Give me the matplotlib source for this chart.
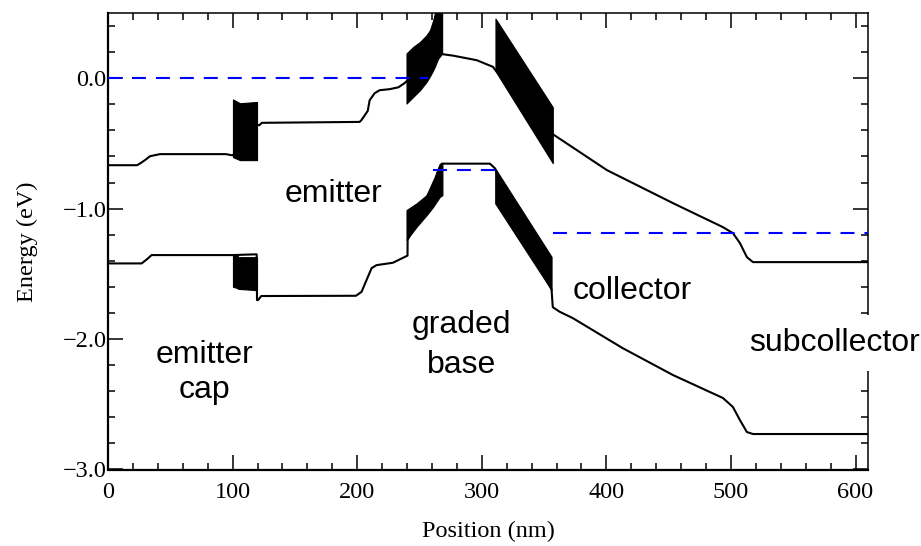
import matplotlib
matplotlib.use("Agg")
import matplotlib.pyplot as plt
from matplotlib.ticker import MultipleLocator

# ---------------- data ----------------
# Conduction band edge (upper curve): position (nm), energy (eV)
cb_x = [0, 23.3, 26.0, 29.7, 33.7, 41.7, 94.7, 99.0, 100.3, 119.6, 121.5, 123.5,
        202.0, 203.5, 208.5, 210.0, 214.0, 218.0, 226.0, 233.0, 238.0, 240.0,
        268.0, 277.0, 296.0, 309.0, 311.0, 357.0, 400.5, 453.5, 493.6, 501.6,
        507.2, 512.8, 517.7, 610.0]
cb_e = [-0.667, -0.667, -0.652, -0.628, -0.598, -0.582, -0.582, -0.59, -0.59, -0.36, -0.36, -0.342,
        -0.335, -0.32, -0.25, -0.169, -0.115, -0.092, -0.084, -0.07, -0.038, -0.02,
        0.185, 0.173, 0.138, 0.087, 0.061, -0.429, -0.705, -0.958, -1.142, -1.188,
        -1.264, -1.372, -1.41, -1.41]

# Valence band edge (lower curve)
vb_x = [0, 27.0, 31.0, 35.0, 100.3, 119.3, 119.6, 120.5, 123.0, 199.0, 203.5, 208.6,
        211.6, 215.6, 228.6, 238.3, 240.4, 240.5, 268.0, 306.5, 310.5, 356.0, 357.0,
        362.4, 373.0, 413.0, 453.5, 493.6, 501.6, 507.2, 512.8, 517.7, 610.0]
vb_e = [-1.42, -1.42, -1.39, -1.356, -1.356, -1.35, -1.701, -1.701, -1.67, -1.668, -1.638, -1.523,
        -1.456, -1.433, -1.415, -1.37, -1.36, -1.24, -0.655, -0.655, -0.69, -1.62, -1.755,
        -1.79, -1.839, -2.069, -2.276, -2.452, -2.521, -2.621, -2.713, -2.728, -2.728]

# Dense (black) band regions: x, upper envelope, lower envelope
emit_cb_x = [100.3, 106.0, 119.6]
emit_cb_hi = [-0.163, -0.192, -0.182]
emit_cb_lo = [-0.605, -0.628, -0.628]

emit_vb_x = [100.3, 104.2, 104.3, 119.6]
emit_vb_hi = [-1.356, -1.356, -1.372, -1.372]
emit_vb_lo = [-1.599, -1.61, -1.615, -1.625]

base_cb_x = [239.6, 245.0, 250.4, 255.7, 258.4, 261.0, 262.4, 265.0, 268.2]
base_cb_hi = [0.19, 0.24, 0.278, 0.33, 0.368, 0.444, 0.5, 0.5, 0.5]
base_cb_lo = [-0.194, -0.143, -0.092, -0.028, 0.015, 0.061, 0.09, 0.151, 0.189]

base_vb_x = [239.6, 247.6, 255.7, 261.0, 263.6, 266.3, 268.4]
base_vb_hi = [-1.011, -0.96, -0.897, -0.808, -0.719, -0.655, -0.655]
base_vb_lo = [-1.241, -1.14, -1.05, -0.986, -0.948, -0.91, -0.897]

coll_cb_x = [311.0, 357.0]
coll_cb_hi = [0.457, -0.222]
coll_cb_lo = [0.055, -0.651]

coll_vb_x = [310.8, 356.0]
coll_vb_hi = [-0.692, -1.369]
coll_vb_lo = [-0.96, -1.625]

# Quasi-Fermi levels (blue dashed)
ef1_x = [0, 257.0]
ef1_e = [0.0, 0.0]
ef2_x = [261.0, 310.5]
ef2_e = [-0.70, -0.70]
ef3_x = [357.5, 610.0]
ef3_e = [-1.19, -1.19]

# Region labels
label_text = ["emitter", "emitter", "cap", "graded", "base", "collector", "subcollector"]
label_x = [180.9, 77.8, 77.8, 283.5, 283.8, 420.4, 583.2]
label_e = [-0.95, -2.184, -2.452, -1.952, -2.257, -1.692, -2.09]

xticks = [0, 100, 200, 300, 400, 500, 600]
yticks = [0.0, -1.0, -2.0, -3.0]

# ---------------- figure ----------------
fig = plt.figure(figsize=(9.21, 5.46), dpi=100)
ax = fig.add_axes([108 / 921, (546 - 469.5) / 546, 760 / 921, (469.5 - 13) / 546])

ax.plot(cb_x, cb_e, color="black", lw=1.5, zorder=2)
ax.plot(vb_x, vb_e, color="black", lw=1.5, zorder=2)

for xs, hi, lo in [(emit_cb_x, emit_cb_hi, emit_cb_lo),
                   (emit_vb_x, emit_vb_hi, emit_vb_lo),
                   (base_cb_x, base_cb_hi, base_cb_lo),
                   (base_vb_x, base_vb_hi, base_vb_lo),
                   (coll_cb_x, coll_cb_hi, coll_cb_lo),
                   (coll_vb_x, coll_vb_hi, coll_vb_lo)]:
    ax.fill_between(xs, lo, hi, facecolor="black", edgecolor="black", lw=0.8, zorder=3)

for xs, es in [(ef1_x, ef1_e), (ef2_x, ef2_e), (ef3_x, ef3_e)]:
    ax.plot(xs, es, color="#0000ff", lw=1.5, dashes=(6.7, 4.8), zorder=4)

ax.set_xlim(0, 610)
ax.set_ylim(-3.0, 0.5)

serif = "Liberation Serif"
ax.set_xticks(xticks)
ax.set_xticklabels([str(v) for v in xticks], fontfamily=serif, fontsize=17.5)
ax.set_yticks(yticks)
ax.set_yticklabels(["%.1f" % v if v == 0 else "\u2212%.1f" % abs(v) for v in yticks],
                   fontfamily=serif, fontsize=17.5)
ax.xaxis.set_minor_locator(MultipleLocator(20))
ax.yaxis.set_minor_locator(MultipleLocator(0.2))
ax.tick_params(which="both", direction="in", top=True, right=True, width=1.1, color="black")
ax.tick_params(which="major", length=11)
ax.tick_params(which="minor", length=5)
ax.tick_params(axis="x", which="major", pad=9)
ax.tick_params(axis="y", which="major", pad=1)

for s in ["left", "bottom"]:
    ax.spines[s].set_linewidth(1.6)
for s in ["top", "right"]:
    ax.spines[s].set_linewidth(1.1)

ax.set_xlabel("Position (nm)", fontfamily=serif, fontsize=17.5)
ax.set_ylabel("Energy (eV)", fontfamily=serif, fontsize=17.5)
ax.xaxis.set_label_coords(0.5, -(521 - 469.5) / 456.5)
ax.yaxis.set_label_coords(-(108 - 38) / 760, 0.5)

for t, x, e in zip(label_text, label_x, label_e):
    kw = {}
    if t == "subcollector":
        kw["bbox"] = dict(boxstyle="square,pad=0.4", facecolor="white", edgecolor="none")
    ax.text(x, e, t, ha="center", va="baseline", fontsize=23,
            fontfamily="Liberation Sans", color="black", zorder=6, **kw)

fig.savefig("out.png", dpi=100, facecolor="white")
